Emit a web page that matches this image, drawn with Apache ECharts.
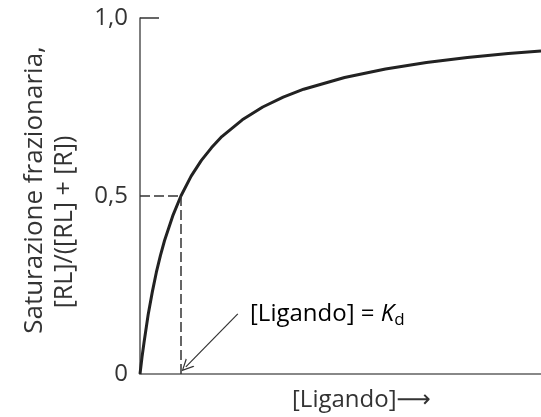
<!DOCTYPE html>
<html>
<head>
<meta charset="utf-8">
<script src="https://cdn.jsdelivr.net/npm/echarts@6/dist/echarts.min.js"></script>
<style>
  html, body { margin: 0; padding: 0; background: #fff; }
  #main { width: 541px; height: 417px; }
</style>
</head>
<body>
<div id="main"></div>
<script>
// [Ligando] in unità di Kd
var ligando = [0, 0.05, 0.1, 0.2, 0.3, 0.4, 0.5, 0.6, 0.8, 1, 1.25, 1.5, 1.75, 2, 2.5, 3, 3.5, 4, 5, 6, 7, 8, 9, 9.8];
var saturazione = [0, 0.048, 0.09, 0.167, 0.23, 0.286, 0.333, 0.375, 0.444, 0.5, 0.556, 0.6, 0.636, 0.667, 0.714, 0.75, 0.778, 0.8, 0.833, 0.857, 0.875, 0.889, 0.9, 0.907];
var yTicks = [0, 0.5, 1];
var yTickLabels = ['0', '0,5', '1,0'];
var kd = 1;
var meta = 0.5;
// freccia dell'annotazione: [coda, punta]
var freccia = [[2.39, 0.169], [1.12, 0.02]];

var FONT = '"Open Sans", "DejaVu Sans", sans-serif';

var myChart = echarts.init(document.getElementById('main'));

var curva = [];
for (var i = 0; i < ligando.length; i++) {
    curva.push([ligando[i], saturazione[i]]);
}

myChart.setOption({
    animation: false,
    grid: {
        left: 140,
        right: 0,
        top: 18,
        bottom: 43
    },
    xAxis: {
        type: 'value',
        min: 0,
        max: 9.8,
        axisLine: { show: true, lineStyle: { color: '#888', width: 2 } },
        axisTick: { show: false },
        axisLabel: { show: false },
        splitLine: { show: false }
    },
    yAxis: {
        type: 'value',
        min: 0,
        max: 1,
        interval: 0.5,
        axisLine: { show: true, lineStyle: { color: '#555', width: 1.5 } },
        axisTick: {
            show: true,
            inside: true,
            length: 19,
            customValues: [1],
            lineStyle: { color: '#333', width: 1.5 }
        },
        axisLabel: {
            customValues: yTicks,
            margin: 12,
            color: '#333',
            fontFamily: FONT,
            fontSize: 24,
            formatter: function (v) {
                return yTickLabels[yTicks.indexOf(v)];
            }
        },
        splitLine: { show: false }
    },
    series: [{
        type: 'line',
        data: curva,
        smooth: false,
        symbol: 'none',
        lineStyle: { color: '#222', width: 3, join: 'round' },
        markLine: {
            silent: true,
            symbol: 'none',
            label: { show: false },
            lineStyle: { color: '#333', width: 1.5, type: [10, 4] },
            data: [
                [{ coord: [0, meta] }, { coord: [kd, meta] }],
                [{ coord: [kd, meta] }, { coord: [kd, 0] }]
            ]
        }
    }, {
        type: 'line',
        data: [],
        markLine: {
            silent: true,
            symbolSize: 12,
            label: { show: false },
            lineStyle: { color: '#333', width: 1.2, type: 'solid' },
            data: [
                [
                    { coord: freccia[0], symbol: 'none' },
                    { coord: freccia[1], symbol: 'path://M5,0 L10,10 L8.8,10 L5,2.2 L1.2,10 L0,10 Z' }
                ]
            ]
        }
    }],
    graphic: [{
        type: 'text',
        x: 35,
        y: 190,
        rotation: Math.PI / 2,
        style: {
            text: 'Saturazione frazionaria,',
            font: '26px ' + FONT,
            fill: '#333',
            align: 'center',
            verticalAlign: 'middle'
        }
    }, {
        type: 'text',
        x: 65,
        y: 222,
        rotation: Math.PI / 2,
        style: {
            text: '[RL]/([RL] + [R])',
            font: '25px ' + FONT,
            fill: '#333',
            align: 'center',
            verticalAlign: 'middle'
        }
    }, {
        type: 'text',
        x: 250,
        y: 314,
        style: {
            text: '{a|[Ligando] = }{k|K}{d|d}',
            verticalAlign: 'middle',
            rich: {
                a: { fontFamily: FONT, fontSize: 24, color: '#333' },
                k: { fontFamily: FONT, fontSize: 24, fontStyle: 'italic', color: '#333' },
                d: { fontFamily: FONT, fontSize: 17, color: '#333', padding: [12, 0, 0, 0] }
            }
        }
    }, {
        type: 'text',
        x: 292,
        y: 400,
        style: {
            text: '[Ligando]\u27F6',
            font: '24px ' + FONT,
            fill: '#333',
            verticalAlign: 'middle'
        }
    }]
});
</script>
</body>
</html>
